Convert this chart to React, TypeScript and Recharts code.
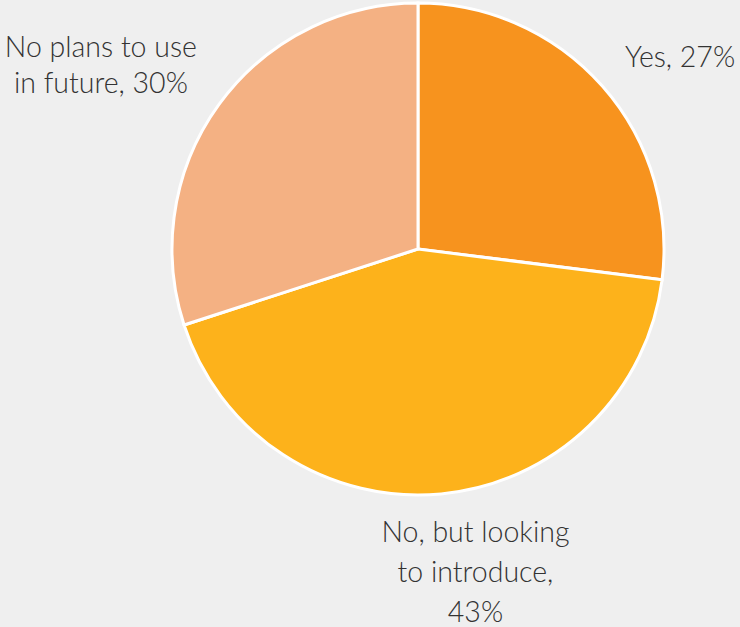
import React from "react";
import { PieChart, Pie, Cell } from "recharts";

const categories = ["Yes", "No, but looking to introduce", "No plans to use in future"];
const values = [27, 43, 30];
const labelLines = [
  ["Yes, 27%"],
  ["No, but looking", "to introduce,", "43%"],
  ["No plans to use", "in future, 30%"],
];
const colors = ["#F7931E", "#FDB21B", "#F4B183"];

const data = categories.map((name, i) => ({ name, value: values[i] }));

// small label nudges (Excel-style best-fit placement)
const labelShift = [
  [19, 32],
  [27, -30],
  [-55, -2],
];
const lineHeights = [38, 40, 36];

const RAD = Math.PI / 180;

const renderLabel = (props: any) => {
  const { cx, cy, midAngle, outerRadius, index } = props;
  const r = outerRadius + 78;
  const x = cx + r * Math.cos(-midAngle * RAD) + labelShift[index][0];
  const y = cy + r * Math.sin(-midAngle * RAD) + labelShift[index][1];
  return (
    <text
      key={`lbl-${index}`}
      x={x}
      y={y}
      textAnchor="middle"
      fill="#333333"
      fontFamily="Lato, 'Noto Sans', sans-serif"
      fontSize={28.5}
      fontWeight={300}
    >
      {labelLines[index].map((line, j) => (
        <tspan key={j} x={x} y={y + j * lineHeights[index]}>
          {line}
        </tspan>
      ))}
    </text>
  );
};

export default function App() {
  return (
    <div
      style={{
        position: "absolute",
        left: 0,
        top: 0,
        width: 740,
        height: 627,
        background: "#EFEFEF",
      }}
    >
      <PieChart width={740} height={627} margin={{ top: 0, right: 0, bottom: 0, left: 0 }}>
        <Pie
          data={data}
          dataKey="value"
          nameKey="name"
          cx={418}
          cy={249}
          outerRadius={246}
          startAngle={90}
          endAngle={-270}
          stroke="#FFFFFF"
          strokeWidth={3}
          label={renderLabel}
          labelLine={false}
          isAnimationActive={false}
        >
          {data.map((d, i) => (
            <Cell key={d.name} fill={colors[i]} />
          ))}
        </Pie>
      </PieChart>
    </div>
  );
}
